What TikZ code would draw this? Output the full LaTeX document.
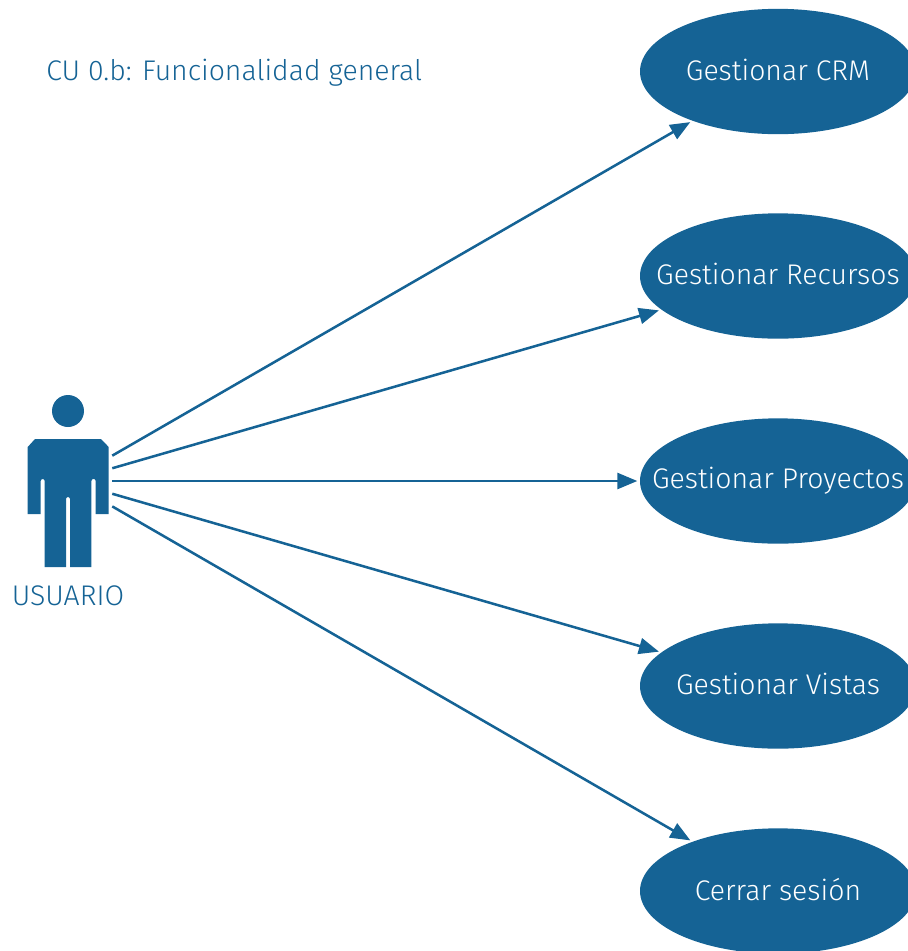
\documentclass[tikz,border=0pt]{standalone}
\usepackage{fontspec}
\usepackage{xcolor}
\usetikzlibrary{shapes.geometric,arrows.meta}
\setmainfont{Fira Sans Light}
\definecolor{cublue}{HTML}{156395}
\newcommand{\culabel}[1]{\makebox[0pt]{\rule[-3pt]{0pt}{18.5pt}#1}}

\begin{document}
\begin{tikzpicture}[x=0.75pt,y=-0.75pt]
  \tikzset{usecase/.style={ellipse,fill=cublue,text=white,inner sep=0pt,minimum width=207pt,minimum height=94pt,font=\fontsize{21.3}{24}\selectfont}}
  \tikzset{transition/.style={-{Triangle[length=15pt,width=12pt]},cublue,line width=1.9pt,shorten >=1.8pt}}
  \tikzset{caption/.style={text=cublue,inner sep=0pt,font=\fontsize{21.3}{24}\selectfont}}
  \useasboundingbox (0,0) rectangle (908,951);
  \node[caption,anchor=west] (title) at (46,72.5) {CU 0.b: Funcionalidad general};
  % the figure
  \node[inner sep=0pt,minimum width=66pt,minimum height=128pt] (usuario) at (68,481) {};
  \fill[cublue] (68,411) circle (12pt);
  \fill[cublue] (35,439) -- (101,439) -- (108.7,447) -- (108.7,514) -- (95.7,514) -- (95.7,481)
    arc[start angle=0,end angle=180,radius=1.6pt] -- (91.3,567) -- (70,567) -- (70,499)
    arc[start angle=0,end angle=180,radius=1.5pt] -- (66,567) -- (44.7,567) -- (44.7,481)
    arc[start angle=0,end angle=180,radius=1.5pt] -- (40.7,514) -- (27.7,514) -- (27.7,447) -- cycle;
  \node[caption] (usuarioLabel) at (68,596) {USUARIO};
  % use cases
  \node[usecase] (crm) at (778,71.5) {\culabel{Gestionar CRM}};
  \node[usecase] (recursos) at (778,276) {\culabel{Gestionar Recursos}};
  \node[usecase] (proyectos) at (778,481) {\culabel{Gestionar Proyectos}};
  \node[usecase] (vistas) at (778,686) {\culabel{Gestionar Vistas}};
  \node[usecase] (cerrar) at (778,891) {\culabel{Cerrar sesión}};
  \draw[transition] (usuario)--(crm);
  \draw[transition] (usuario)--(recursos);
  \draw[transition] (usuario)--(proyectos);
  \draw[transition] (usuario)--(vistas);
  \draw[transition] (usuario)--(cerrar);
\end{tikzpicture}
\end{document}
